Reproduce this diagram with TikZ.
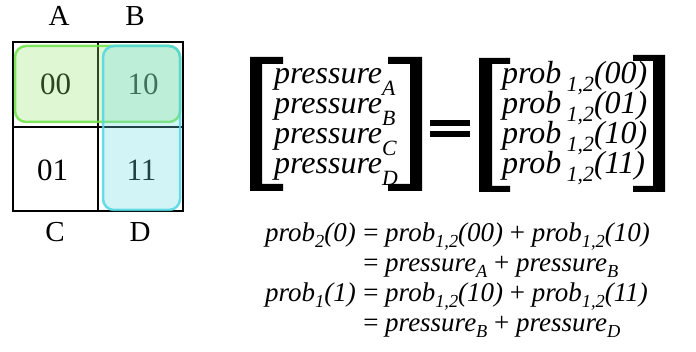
\documentclass[tikz,border=0pt]{standalone}
\usepackage{fontspec}
\setmainfont{Liberation Serif}
\usepackage{graphicx}
\newcommand{\sbs}[2][0.3em]{\raisebox{-#1}{\scalebox{0.68}{#2}}}
\begin{document}
\begin{tikzpicture}[x=1pt,y=-1pt,
  lbl/.style={font=\fontsize{29}{29}\selectfont, inner sep=0},
  cell/.style={font=\fontsize{31}{31}\selectfont, inner sep=0},
  mtx/.style={font=\fontsize{32}{32}\selectfont\itshape, inner sep=0, anchor=base west},
  eqn/.style={font=\fontsize{27}{27}\selectfont, inner sep=0, anchor=base west},
  eql/.style={font=\fontsize{27}{27}\selectfont, inner sep=0, anchor=base east},
  brk/.style={fill=black, draw=none},
  grid/.style={line width=2.6pt, draw=black},
  grp/.style={rounded corners=11pt, line width=2.5pt, fill opacity=0.3, draw opacity=0.85},
]
\useasboundingbox (0,0) rectangle (696,352);
% K-map labels
\node[lbl] (A) at (59,16) {A};
\node[lbl] (B) at (135,16) {B};
\node[lbl] (C) at (55,232) {C};
\node[lbl] (D) at (140,232) {D};
% cells
\node[cell] (c00) at (55.5,84.5) {00};
\node[cell] (c10) at (143,84.5) {10};
\node[cell] (c01) at (52.5,170.5) {01};
\node[cell] (c11) at (141.5,170.5) {11};
% grid
\draw[grid] (13,42) rectangle (183,211);
\draw[grid] (98,42) -- (98,211);
\draw[grid] (13,127) -- (183,127);
% groups
\draw[grp, draw={rgb,255:red,110;green,225;blue,70}, fill={rgb,255:red,150;green,228;blue,110}] (15,46) rectangle (180,122);
\draw[grp, draw={rgb,255:red,80;green,215;blue,225}, fill={rgb,255:red,110;green,220;blue,230}] (103,46) rectangle (180,210);
% matrix 1 brackets
\fill[brk] (250,57) -- (283,57) -- (283,64) -- (262,64) -- (262,184) -- (283,184) -- (283,191) -- (250,191) -- cycle;
\fill[brk] (422,57) -- (388,57) -- (388,64) -- (410,64) -- (410,184) -- (388,184) -- (388,191) -- (422,191) -- cycle;
% equals
\fill[brk] (430,120) rectangle (470,126);
\fill[brk] (430,131) rectangle (470,137);
% matrix 2 brackets
\fill[brk] (479,58) -- (510,58) -- (510,64) -- (492,64) -- (492,186) -- (510,186) -- (510,192) -- (479,192) -- cycle;
\fill[brk] (665,55) -- (633,55) -- (633,61) -- (653,61) -- (653,186) -- (633,186) -- (633,192) -- (665,192) -- cycle;
% matrix 1 text
\node[mtx] (pA) at (274,84) {pressure\sbs[0.36em]{A}};
\node[mtx] (pB) at (274,114) {pressure\sbs[0.36em]{B}};
\node[mtx] (pC) at (274,144) {pressure\sbs[0.36em]{C}};
\node[mtx] (pD) at (274,174) {pressure\sbs[0.36em]{D}};
% matrix 2 text
\node[mtx] (q00) at (502,84) {prob\,\sbs[0.25em]{1,2}(00)};
\node[mtx] (q01) at (502,114) {prob\,\sbs[0.25em]{1,2}(01)};
\node[mtx] (q10) at (502,144) {prob\,\sbs[0.25em]{1,2}(10)};
\node[mtx] (q11) at (502,174) {prob\,\sbs[0.25em]{1,2}(11)};
% equations
\node[eqn] (e1l) at (265,242) {\textit{prob\sbs[0.2em]{2}(0)}};
\node[eqn] (e1r) at ([xshift=7pt]e1l.base east) {= \textit{prob\sbs[0.2em]{1,2}(00)} + \textit{prob\sbs[0.2em]{1,2}(10)}};
\node[eqn] (e2r) at ([yshift=-30pt]e1r.base west) {= \textit{pressure\sbs[0.2em]{A}} + \textit{pressure\sbs[0.2em]{B}}};
\node[eqn] (e3r) at ([yshift=-60pt]e1r.base west) {= \textit{prob\sbs[0.2em]{1,2}(10)} + \textit{prob\sbs[0.2em]{1,2}(11)}};
\node[eql] (e3l) at ([xshift=-7pt]e3r.base west) {\textit{prob\sbs[0.2em]{1}(1)}};
\node[eqn] (e4r) at ([yshift=-90pt]e1r.base west) {= \textit{pressure\sbs[0.2em]{B}} + \textit{pressure\sbs[0.2em]{D}}};
\end{tikzpicture}
\end{document}
